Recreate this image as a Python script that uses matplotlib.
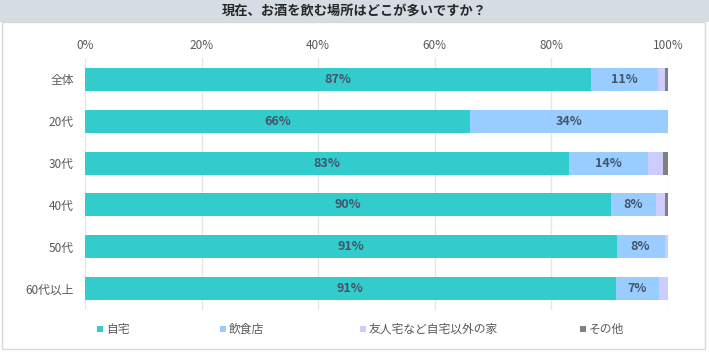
import matplotlib.pyplot as plt
from matplotlib.patches import Rectangle

plt.rcParams['font.family'] = ['Noto Sans CJK JP', 'DejaVu Sans']

categories = ['全体', '20代', '30代', '40代', '50代', '60代以上']
home = [86.8, 66.0, 83.0, 90.2, 91.2, 91.0]
restaurant = [11.5, 34.0, 13.6, 7.7, 8.2, 7.4]
friend = [1.2, 0.0, 2.6, 1.5, 0.6, 1.6]
other = [0.5, 0.0, 0.8, 0.6, 0.0, 0.0]
series_names = ['自宅', '飲食店', '友人宅など自宅以外の家', 'その他']
label_home = ['87%', '66%', '83%', '90%', '91%', '91%']
label_rest = ['11%', '34%', '14%', '8%', '8%', '7%']
title = '現在、お酒を飲む場所はどこが多いですか？'

colors = ['#33CCCC', '#99CCFF', '#CCCCFF', '#808080']

W, H = 709, 357
fig = plt.figure(figsize=(W / 100, H / 100), dpi=100)

# title bar and outer frame
fig.patches.append(Rectangle((0, 1 - 22 / H), 1, 22 / H, transform=fig.transFigure,
                             facecolor='#D6DCE4', edgecolor='none', zorder=0))
fig.patches.append(Rectangle((2 / W, 1 - 349 / H), 703 / W, 327 / H, transform=fig.transFigure,
                             facecolor='none', edgecolor='#D9D9D9', linewidth=1, zorder=1))
fig.text(0.5, 1 - 11 / H, title, ha='center', va='center', fontsize=9.5,
         fontweight='bold', color='#262626')

ax = fig.add_axes([85 / W, 1 - 310 / H, 583 / W, 252 / H])
y = list(range(len(categories)))
left = [0] * len(categories)
for vals, c, name in zip([home, restaurant, friend, other], colors, series_names):
    ax.barh(y, vals, left=left, height=0.55, color=c, label=name, zorder=2)
    left = [a + b for a, b in zip(left, vals)]

for i in y:
    ax.text(home[i] / 2, i, label_home[i], ha='center', va='center', fontsize=9,
            fontweight='bold', color='#44546A', zorder=3)
    ax.text(home[i] + restaurant[i] / 2, i, label_rest[i], ha='center', va='center',
            fontsize=9, fontweight='bold', color='#44546A', zorder=3)

ax.set_xlim(0, 100)
ax.set_ylim(5.51, -0.51)
ax.set_yticks(y)
ax.set_yticklabels(categories)
ax.set_xticks(range(0, 101, 20))
ax.set_xticklabels([f'{v}%' for v in range(0, 101, 20)])
ax.xaxis.tick_top()
ax.tick_params(axis='both', length=0, labelsize=8.5, labelcolor='#595959')
ax.tick_params(axis='x', pad=4)
ax.tick_params(axis='y', pad=8)
ax.grid(axis='x', color='#E6E6E6', linewidth=1, zorder=0)
for s in ax.spines.values():
    s.set_visible(False)

leg_x = [97, 220, 360, 580]
for hx, c, name in zip(leg_x, colors, series_names):
    fig.patches.append(Rectangle((hx / W, 1 - 332 / H), 6 / W, 6 / H, transform=fig.transFigure,
                                 facecolor=c, edgecolor='none'))
    fig.text((hx + 9) / W, 1 - 329 / H, name, ha='left', va='center', fontsize=8.5,
             color='#595959')

fig.savefig('out.png', dpi=100)
